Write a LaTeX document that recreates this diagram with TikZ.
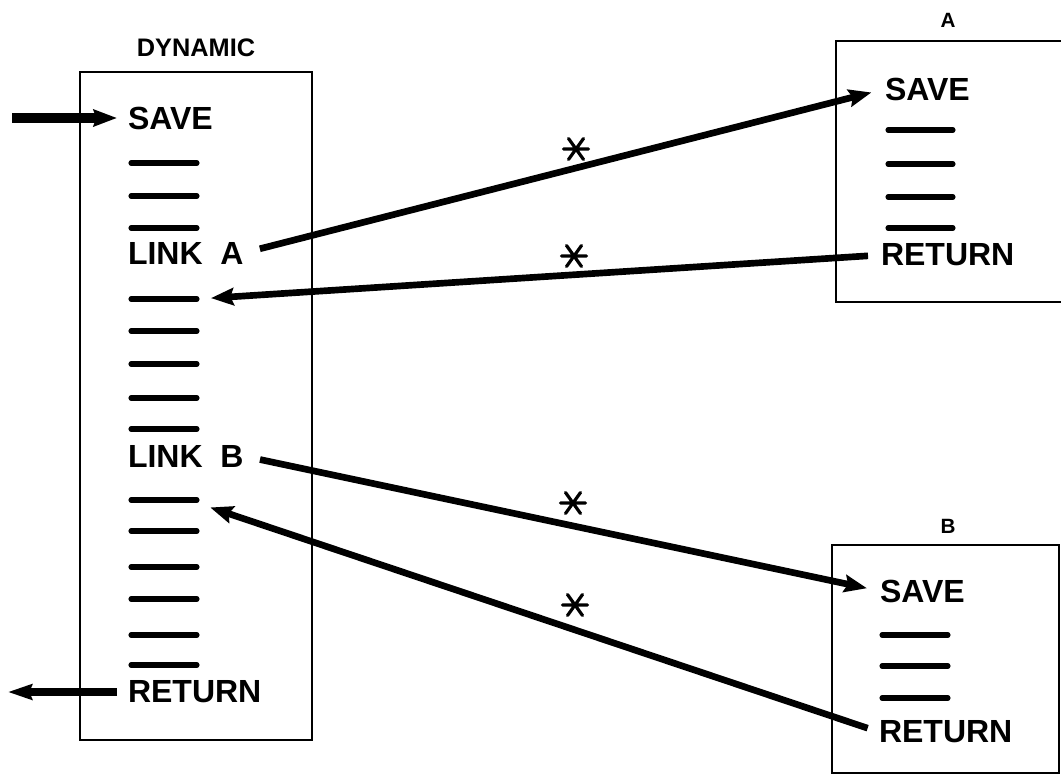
\documentclass[tikz,border=0pt]{standalone}
\usepackage{fontspec}
\newfontfamily\lettering{Liberation Sans}
\usetikzlibrary{arrows.meta}
\begin{document}
\begin{tikzpicture}[x=0.75pt,y=-0.75pt,
  every node/.style={inner sep=0pt,outer sep=0pt},
  word/.style={anchor=west,font=\lettering\bfseries\fontsize{24}{28}\selectfont},
  heading/.style={font=\lettering\bfseries\fontsize{19}{22}\selectfont},
  tag/.style={font=\lettering\bfseries\fontsize{15.5}{18}\selectfont},
  frame/.style={draw,line width=1.5pt},
  blank/.style={line width=3.8pt,line cap=round},
  jump/.style={line width=5pt,-{Stealth[length=17pt,width=13pt,inset=2.5pt]}},
  feed/.style={line width=7pt,-{Stealth[length=17.5pt,width=12.5pt,inset=2pt]}},
  leave/.style={line width=6pt,-{Stealth[length=18pt,width=11.5pt,inset=2pt]}},
  star/.pic={\draw[line width=2.4pt,line cap=round]
     (-12.5,0) -- (12.5,0) (-7.5,-10.5) -- (7.5,10.5) (7.5,-10.5) -- (-7.5,10.5);}
]
\useasboundingbox (0,0) rectangle (1061,775);
\clip (0,0) rectangle (1061,775);

% ---- main routine ----
\node[heading] (dynlabel) at (196,48) {DYNAMIC};
\node[frame,minimum width=174pt,minimum height=501pt] (dynbox) at (196,406) {};
\node[word] (dsave)   at (128,118) {SAVE};
\node[word] (dlinka)  at (128,253) {LINK\hspace{0.55em}A};
\node[word] (dlinkb)  at (128,456) {LINK\hspace{0.55em}B};
\node[word] (dreturn) at (128,692) {RETURN};
\foreach \y in {163,196,228,299,331,364,398,429,500,531,567,599,635,665}
  \draw[blank] (131,\y) -- (197,\y);
\coordinate (retA) at (197,299);
\coordinate (retB) at (197,503);
\coordinate (entry) at (12,118);
\coordinate (exit) at (8,692);

% ---- subroutine A ----
\node[tag] (alabel) at (948,20) {A};
\node[frame,minimum width=171pt,minimum height=196pt] (abox) at (950,171.5) {};
\node[word] (asave)   at (885,89)  {SAVE};
\node[word] (areturn) at (881,255) {RETURN};
\foreach \y in {130,164,197,228}
  \draw[blank] (888,\y) -- (953,\y);

% ---- subroutine B ----
\node[tag] (blabel) at (948,526) {B};
\node[frame,minimum width=170pt,minimum height=171pt] (bbox) at (945.5,659) {};
\node[word] (bsave)   at (880,591) {SAVE};
\node[word] (breturn) at (879,732) {RETURN};
\foreach \y in {635,666,698}
  \draw[blank] (882,\y) -- (948,\y);

% ---- control transfers ----
\draw[feed,shorten >=8.25pt] (entry) -- (dsave.west);
\draw[leave,shorten <=8.25pt] (dreturn.west) -- (exit);
\draw[jump,shorten <=12.75pt,shorten >=10.5pt] (dlinka.east) -- (asave.west);
\draw[jump,shorten <=9.75pt,shorten >=10.5pt] (areturn.west) -- (retA);
\draw[jump,shorten <=12.75pt,shorten >=10pt] (dlinkb.east) -- (bsave.west);
\draw[jump,shorten <=9pt,shorten >=10.5pt] (breturn.west) -- (retB);

% ---- marks on the transfers ----
\pic at (576,149) {star};
\pic at (574,256) {star};
\pic at (573,503) {star};
\pic at (575,605) {star};
\end{tikzpicture}
\end{document}
